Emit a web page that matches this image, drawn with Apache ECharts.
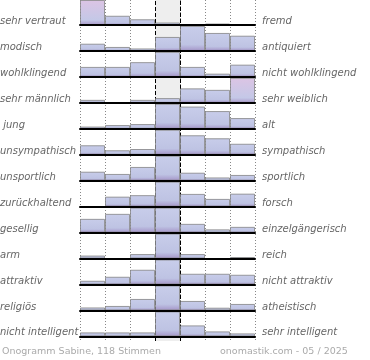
<!DOCTYPE html>
<html>
<head>
<meta charset="utf-8">
<script src="https://cdn.jsdelivr.net/npm/echarts@6/dist/echarts.min.js"></script>
<style>
html,body{margin:0;padding:0;background:#fff;}
#c{width:370px;height:360px;}
</style>
</head>
<body>
<div id="c"></div>
<script>
const bins = ['1','2','3','4','5','6','7'];
const leftLabels = ['sehr vertraut','modisch','wohlklingend','sehr männlich',' jung','unsympathisch','unsportlich','zurückhaltend','gesellig','arm','attraktiv','religiös','nicht intelligent'];
const rightLabels = ['fremd','antiquiert','nicht wohlklingend','sehr weiblich','alt','sympathisch','sportlich','forsch','einzelgängerisch','reich','nicht attraktiv','atheistisch','sehr intelligent'];
const rowValues = [
  [100, 37, 23, 10, 0, 6, 0],
  [29, 16, 10, 56, 100, 72, 61],
  [40, 40, 59, 100, 40, 13, 49],
  [12, 0, 12, 19, 58, 52, 100],
  [9, 15, 19, 100, 89, 71, 43],
  [38, 18, 23, 100, 78, 66, 44],
  [36, 27, 55, 100, 32, 13, 23],
  [0, 40, 46, 100, 51, 31, 52],
  [55, 75, 100, 100, 35, 13, 23],
  [12, 0, 18, 100, 18, 0, 6],
  [15, 31, 59, 100, 43, 43, 39],
  [12, 18, 46, 100, 38, 11, 26],
  [16, 16, 16, 100, 44, 20, 12]
];
const pinkBars = [[0,0],[3,6]];
const footerLeft = 'Onogramm Sabine, 118 Stimmen';
const footerRight = 'onomastik.com - 05 / 2025';

const L = 80, W = 175, RH = 25.95, BH = 25;
const blueGrad = {type:'linear',x:0,y:0,x2:0,y2:1,colorStops:[
  {offset:0,color:'#c8cdea'},{offset:0.75,color:'#bec3e3'},{offset:1,color:'#a494c8'}]};
const pinkGrad = {type:'linear',x:0,y:0,x2:0,y2:1,colorStops:[
  {offset:0,color:'#dcc4e4'},{offset:0.8,color:'#c4c8e7'},{offset:1,color:'#a898c8'}]};

const grid = [], xAxis = [], yAxis = [], series = [], graphic = [];
grid.push({left:L, top:0, width:W, height:341});
xAxis.push({type:'value', gridIndex:0, min:0, max:7, interval:1,
  axisLine:{show:false}, axisTick:{show:false}, axisLabel:{show:false},
  splitLine:{show:true, lineStyle:{color:'#888', type:[1,2], width:1}}});
yAxis.push({type:'value', gridIndex:0, min:0, max:1, show:false, splitLine:{show:false}});
series.push({type:'line', xAxisIndex:0, yAxisIndex:0, data:[], silent:true, z:0,
  markArea:{silent:true, itemStyle:{color:'#eeeeee'}, data:[[{xAxis:3},{xAxis:4}]]}});
series.push({type:'line', xAxisIndex:0, yAxisIndex:0, data:[], silent:true, z:20,
  markLine:{silent:true, symbol:'none', label:{show:false},
    lineStyle:{color:'#000', type:[4,2], width:1},
    data:[{xAxis:3},{xAxis:4}]}});

rowValues.forEach((vals, i) => {
  const gi = i + 1;
  const top = i * RH;
  grid.push({left:L, top:top, width:W, height:BH});
  xAxis.push({type:'category', gridIndex:gi, data:bins, boundaryGap:true,
    axisLine:{show:true, lineStyle:{color:'#000', width:2}}, axisTick:{show:false},
    axisLabel:{show:false}, splitLine:{show:false}, z:15});
  const mx = Math.max(...vals);
  yAxis.push({type:'value', gridIndex:gi, min:0, max:mx, show:false, splitLine:{show:false}});
  series.push({type:'bar', xAxisIndex:gi, yAxisIndex:gi, barCategoryGap:'0%', z:5,
    itemStyle:{color:blueGrad, borderColor:'rgba(125,125,125,0.75)', borderWidth:1},
    data: vals.map((v, j) => {
      const pink = pinkBars.some(p => p[0] === i && p[1] === j);
      return pink ? {value:v, itemStyle:{color:pinkGrad}} : v;
    })});
  const cy = top + BH - 4.5;
  graphic.push({type:'text', left:0, top:cy - 4, style:{text:leftLabels[i], fill:'#666',
    font:'italic 10px "DejaVu Sans"'}});
  graphic.push({type:'text', left:262, top:cy - 4, style:{text:rightLabels[i], fill:'#666',
    font:'italic 10px "DejaVu Sans"'}});
});
graphic.push({type:'text', left:2, top:347, style:{text:footerLeft, fill:'#aaa', font:'9.5px "DejaVu Sans"'}});
graphic.push({type:'text', left:220, top:347, style:{text:footerRight, fill:'#aaa', font:'9.5px "DejaVu Sans"'}});

const chart = echarts.init(document.getElementById('c'), null, {renderer:'canvas'});
chart.setOption({animation:false, grid, xAxis, yAxis, series, graphic});
</script>
</body>
</html>
